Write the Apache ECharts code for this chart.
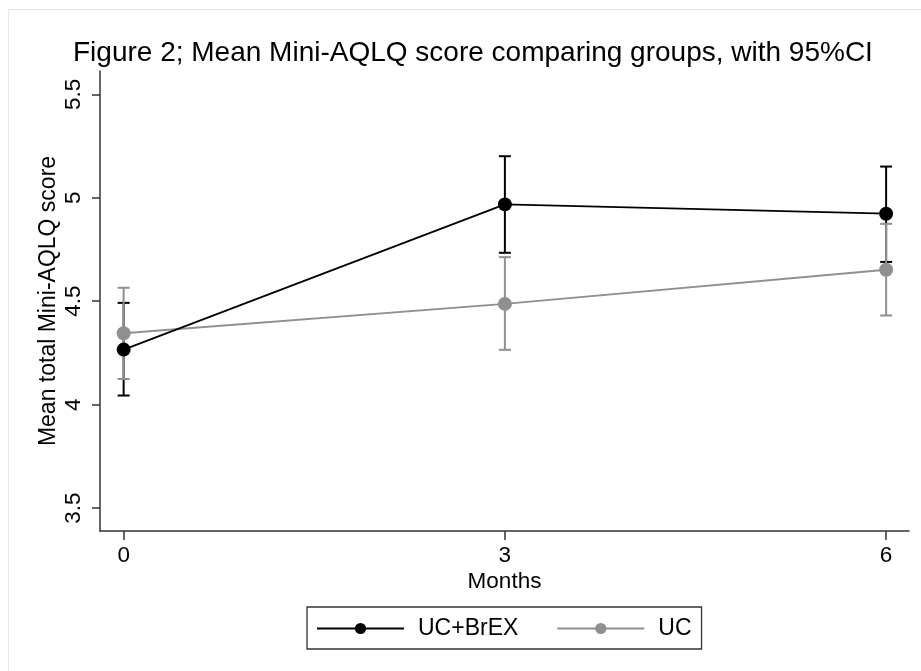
<!DOCTYPE html>
<html>
<head>
<meta charset="utf-8">
<script src="https://cdn.jsdelivr.net/npm/echarts@6/dist/echarts.min.js"></script>
<style>html,body{margin:0;padding:0;background:#fff}#c{width:921px;height:671px}</style>
</head>
<body>
<div id="c"></div>
<script>
const months = [0, 3, 6];
const xTicks = [0, 3, 6];
const yTicks = [3.5, 4, 4.5, 5, 5.5];
const brexMean = [4.266, 4.968, 4.923];
const brexLower = [4.044, 4.734, 4.690];
const brexUpper = [4.492, 5.201, 5.151];
const ucMean = [4.345, 4.487, 4.652];
const ucLower = [4.124, 4.265, 4.431];
const ucUpper = [4.565, 4.713, 4.874];

const FONT = 'Liberation Sans';
const BLACK = '#000000';
const GRAY = '#8f8f8f';

function errSeries(name, lower, upper, color) {
  return {
    type: 'custom',
    name: name + ' CI',
    z: 1,
    silent: true,
    data: months.map((m, i) => [m, lower[i], upper[i]]),
    encode: { x: 0, y: [1, 2] },
    renderItem: function (params, api) {
      const lo = api.coord([api.value(0), api.value(1)]);
      const hi = api.coord([api.value(0), api.value(2)]);
      const hw = 6;
      const st = { stroke: color, lineWidth: 2 };
      return {
        type: 'group',
        children: [
          { type: 'line', shape: { x1: lo[0], y1: lo[1], x2: hi[0], y2: hi[1] }, style: st },
          { type: 'line', shape: { x1: lo[0] - hw, y1: lo[1], x2: lo[0] + hw, y2: lo[1] }, style: st },
          { type: 'line', shape: { x1: hi[0] - hw, y1: hi[1], x2: hi[0] + hw, y2: hi[1] }, style: st }
        ]
      };
    }
  };
}

const chart = echarts.init(document.getElementById('c'), null, { renderer: 'canvas' });
chart.setOption({
  animation: false,
  backgroundColor: '#ffffff',
  textStyle: { fontFamily: FONT },
  title: {
    text: 'Figure 2; Mean Mini-AQLQ score comparing groups, with 95%CI',
    left: 68,
    top: 34,
    textStyle: { fontFamily: FONT, fontSize: 28, fontWeight: 'normal', color: '#000' }
  },
  graphic: [{
    type: 'rect', silent: true, z: -10,
    shape: { x: 8.5, y: 9.5, width: 960, height: 720 },
    style: { fill: 'none', stroke: '#e6e6e6', lineWidth: 1 }
  }],
  legend: {
    left: 307, top: 607,
    padding: [10, 10, 9, 9],
    borderColor: '#333', borderWidth: 1.3,
    itemWidth: 87, itemHeight: 14, itemGap: 38,
    textStyle: { fontFamily: FONT, fontSize: 23, lineHeight: 23, color: '#000', padding: [0, 0, 0, 9] },
    data: ['UC+BrEX', 'UC']
  },
  grid: { left: 100, top: 71, right: 12, bottom: 140 },
  xAxis: {
    type: 'value',
    min: -0.186, max: 6.18,
    name: 'Months', nameLocation: 'middle', nameGap: 39, nameMoveOverlap: false,
    nameTextStyle: { fontFamily: FONT, fontSize: 22.5, color: '#000' },
    axisLine: { onZero: false, lineStyle: { color: '#333', width: 1.5 } },
    axisTick: { show: true, customValues: xTicks, length: 9, lineStyle: { color: '#333', width: 1.5 } },
    axisLabel: { customValues: xTicks, fontSize: 22.5, color: '#000', margin: 13 },
    splitLine: { show: false }
  },
  yAxis: {
    type: 'value',
    min: 3.389, max: 5.613,
    name: 'Mean total Mini-AQLQ score', nameLocation: 'middle', nameGap: 40, nameMoveOverlap: false,
    nameTextStyle: { fontFamily: FONT, fontSize: 23, color: '#000' },
    axisLine: { show: true, onZero: false, lineStyle: { color: '#333', width: 1.5 } },
    axisTick: { show: true, customValues: yTicks, length: 8, lineStyle: { color: '#333', width: 1.5 } },
    axisLabel: { customValues: yTicks, rotate: 90, fontSize: 22.5, color: '#000', margin: 15, formatter: v => String(v) },
    splitLine: { show: false }
  },
  series: [
    errSeries('UC+BrEX', brexLower, brexUpper, BLACK),
    errSeries('UC', ucLower, ucUpper, GRAY),
    {
      type: 'line', name: 'UC+BrEX', z: 3,
      data: months.map((m, i) => [m, brexMean[i]]),
      symbol: 'circle', symbolSize: 14,
      lineStyle: { color: BLACK, width: 1.8 },
      itemStyle: { color: BLACK }
    },
    {
      type: 'line', name: 'UC', z: 2,
      data: months.map((m, i) => [m, ucMean[i]]),
      symbol: 'circle', symbolSize: 14,
      lineStyle: { color: GRAY, width: 1.8 },
      itemStyle: { color: GRAY }
    }
  ]
});
</script>
</body>
</html>
